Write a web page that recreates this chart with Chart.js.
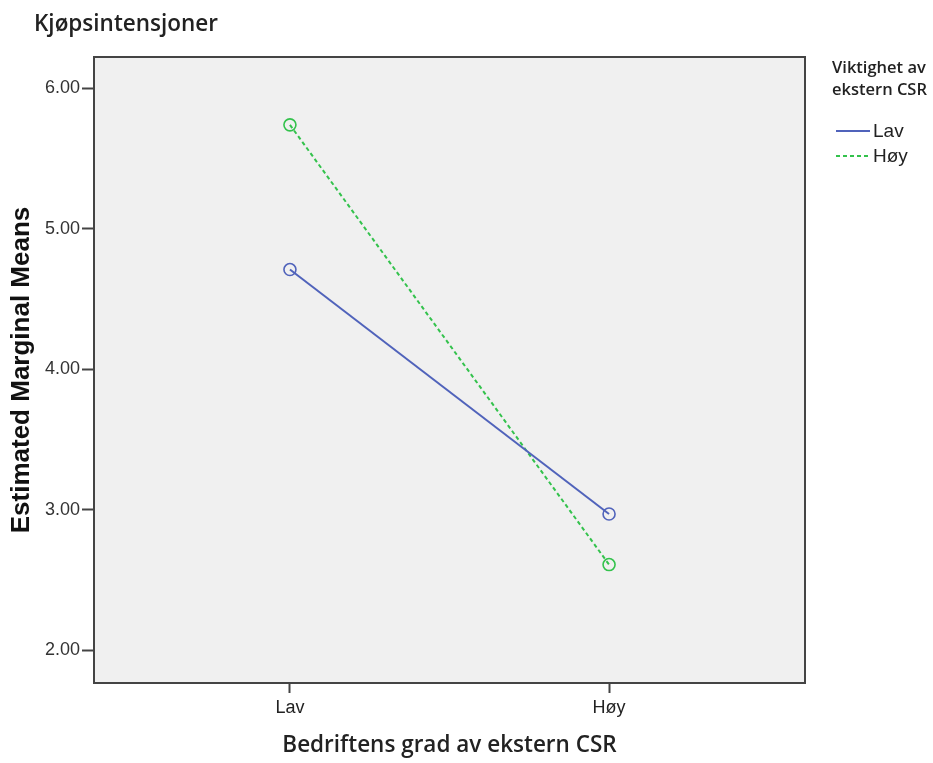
<!DOCTYPE html>
<html>
<head>
<meta charset="utf-8">
<script src="https://cdn.jsdelivr.net/npm/chart.js@4/dist/chart.umd.min.js"></script>
<style>
  html, body { margin: 0; padding: 0; background: #ffffff; }
  #chart { display: block; }
</style>
</head>
<body>
<canvas id="chart" width="933" height="763"></canvas>
<script>
// Kategorier på x-aksen og estimerte gjennomsnitt per gruppe
const categories = ['Lav', 'Høy'];
const seriesNames = ['Lav', 'Høy'];
const meansLav = [4.71, 2.97];
const meansHoy = [5.74, 2.61];
const yTicks = [2, 3, 4, 5, 6];

const blue = '#5063bb';
const green = '#33c24c';

// Grå bakgrunn og ramme rundt plottet
const plotFrame = {
  id: 'plotFrame',
  beforeDraw(chart) {
    const { ctx, chartArea: a } = chart;
    ctx.save();
    ctx.fillStyle = '#f0f0f0';
    ctx.fillRect(a.left, a.top, a.right - a.left, a.bottom - a.top);
    ctx.restore();
  },
  afterDraw(chart) {
    const { ctx, chartArea: a } = chart;
    ctx.save();
    ctx.strokeStyle = '#444444';
    ctx.lineWidth = 2;
    ctx.strokeRect(a.left, a.top, a.right - a.left, a.bottom - a.top);
    ctx.restore();
  }
};

// Tittel øverst og forklaring til høyre
const labels = {
  id: 'labels',
  afterDraw(chart) {
    const { ctx } = chart;
    ctx.save();
    ctx.fillStyle = '#222222';
    ctx.textBaseline = 'middle';
    ctx.textAlign = 'left';
    ctx.font = '600 22.5px "Open Sans", sans-serif';
    ctx.fillText('Kjøpsintensjoner', 34, 25);

    ctx.font = '600 16.5px "Open Sans", sans-serif';
    ctx.fillText('Viktighet av', 832, 68);
    ctx.fillText('ekstern CSR', 832, 90);

    ctx.font = '19px "Liberation Sans", Arial, sans-serif';
    chart.data.datasets.forEach((ds, i) => {
      const y = 131 + i * 25;
      ctx.beginPath();
      ctx.strokeStyle = ds.borderColor;
      ctx.lineWidth = ds.borderWidth;
      ctx.setLineDash(ds.borderDash || []);
      ctx.moveTo(836, y);
      ctx.lineTo(870, y);
      ctx.stroke();
      ctx.setLineDash([]);
      ctx.fillStyle = '#222222';
      ctx.fillText(ds.label, 873, y + 1);
    });
    ctx.restore();
  }
};

new Chart(document.getElementById('chart'), {
  type: 'line',
  data: {
    datasets: [
      {
        label: seriesNames[0],
        data: meansLav.map((v, i) => ({ x: i, y: v })),
        borderColor: blue,
        borderWidth: 2,
        pointStyle: 'circle',
        pointRadius: 6,
        pointBorderWidth: 1.6,
        pointBackgroundColor: 'rgba(0,0,0,0)',
        pointBorderColor: blue,
        tension: 0
      },
      {
        label: seriesNames[1],
        data: meansHoy.map((v, i) => ({ x: i, y: v })),
        borderColor: green,
        borderWidth: 2,
        borderDash: [4, 3],
        pointStyle: 'circle',
        pointRadius: 6,
        pointBorderWidth: 1.6,
        pointBackgroundColor: 'rgba(0,0,0,0)',
        pointBorderColor: green,
        tension: 0
      }
    ]
  },
  options: {
    responsive: false,
    animation: false,
    layout: { padding: { left: 0, top: 57, right: 128, bottom: 0 } },
    plugins: {
      legend: { display: false },
      tooltip: { enabled: false }
    },
    scales: {
      x: {
        type: 'linear',
        min: -0.614,
        max: 1.614,
        afterFit(scale) { scale.height = 80; },
        afterBuildTicks(scale) {
          scale.ticks = categories.map((c, i) => ({ value: i }));
        },
        ticks: {
          color: '#222222',
          font: { family: '"Liberation Sans", Arial, sans-serif', size: 18 },
          padding: 4,
          callback: (v) => categories[v]
        },
        grid: { drawOnChartArea: false, tickLength: 10, color: '#444444', tickWidth: 2 },
        border: { display: false },
        title: {
          display: true,
          text: 'Bedriftens grad av ekstern CSR',
          color: '#222222',
          font: { family: '"Open Sans", sans-serif', size: 22.5, weight: '600' },
          padding: { top: 0 }
        }
      },
      y: {
        min: 1.767,
        max: 6.223,
        afterFit(scale) { scale.width = 94; },
        afterBuildTicks(scale) {
          scale.ticks = yTicks.map(v => ({ value: v }));
        },
        ticks: {
          color: '#333333',
          font: { family: '"Liberation Sans", Arial, sans-serif', size: 18 },
          padding: 2,
          callback: (v) => Number(v).toFixed(2)
        },
        grid: { drawOnChartArea: false, tickLength: 12, color: '#444444', tickWidth: 2 },
        border: { display: false },
        title: {
          display: true,
          text: 'Estimated Marginal Means',
          color: '#111111',
          font: { family: '"Liberation Sans", Arial, sans-serif', size: 26, weight: 'bold' },
          padding: { top: 6 }
        }
      }
    }
  },
  plugins: [plotFrame, labels]
});
</script>
</body>
</html>
